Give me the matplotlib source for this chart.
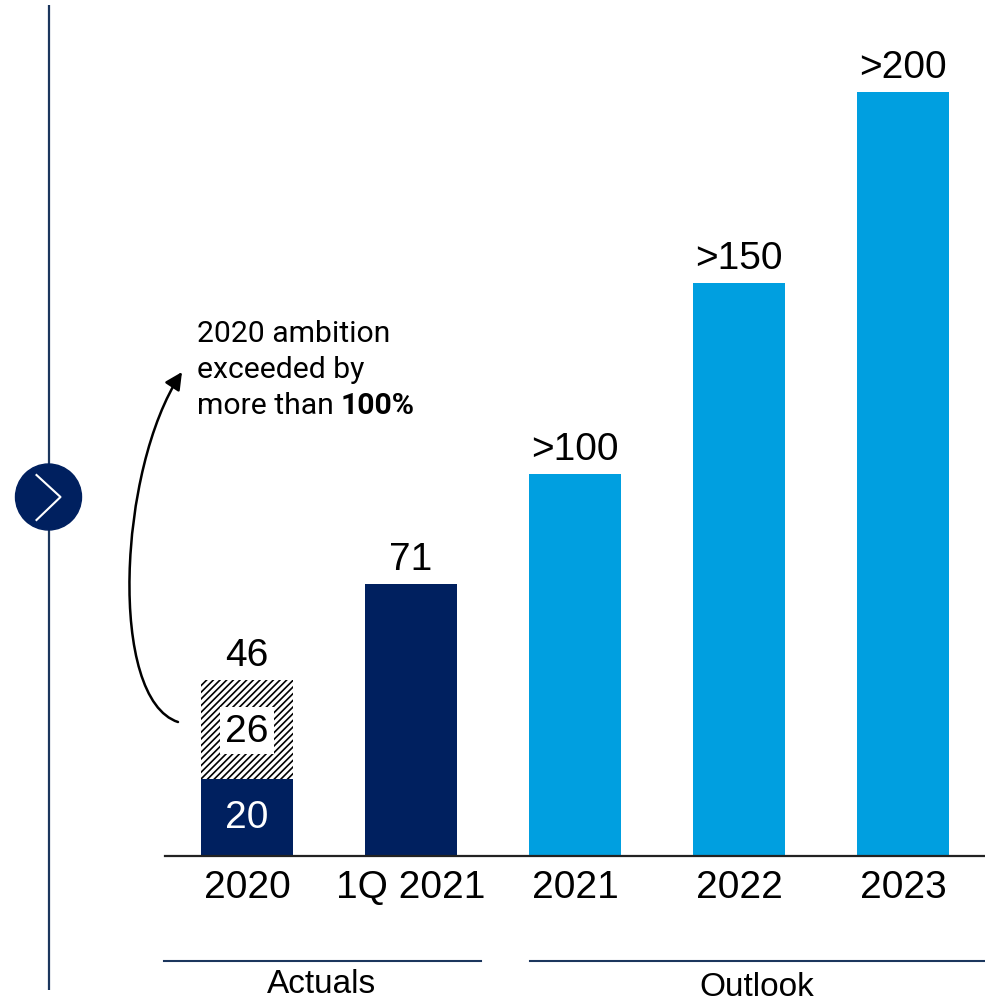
import matplotlib
matplotlib.use("Agg")
import matplotlib.pyplot as plt
from matplotlib.patches import Circle, FancyArrowPatch
from matplotlib.path import Path

plt.rcParams['hatch.linewidth'] = 1.2
plt.rcParams['font.family'] = ['Liberation Sans', 'DejaVu Sans']

W, H = 985, 1003
NAVY = '#00205F'
LINE = '#1B365D'
BLUE = '#009FE0'

categories = ['2020', '1Q 2021', '2021', '2022', '2023']
solid_values = [20, 71, 100, 150, 200]
hatched_values = [26, 0, 0, 0, 0]
top_labels = ['46', '71', '>100', '>150', '>200']
bar_colors = [NAVY, NAVY, BLUE, BLUE, BLUE]
group_names = ['Actuals', 'Outlook']

fig = plt.figure(figsize=(W / 100, H / 100), dpi=100)

# page layer in pixel units, for the rail, the arrow and the group captions
page = fig.add_axes([0, 0, 1, 1])
page.set_xlim(0, W)
page.set_ylim(H, 0)
page.axis('off')

page.plot([48.5, 48.5], [6, 991], color=LINE, lw=1.6, solid_capstyle='butt')
page.add_patch(Circle((48.5, 498), 33, color=NAVY, zorder=3))
page.plot([36.5, 60.5, 36.5], [476, 498, 521], color='white', lw=1.5, zorder=4)

page.plot([164, 481], [962, 962], color=LINE, lw=1.5)
page.plot([530, 985], [962, 962], color=LINE, lw=1.5)
page.text(322, 985, group_names[0], fontsize=24, ha='center', va='center')
page.text(757, 988, group_names[1], fontsize=24, ha='center', va='center')

curve = Path(
    [(178, 723), (108, 700), (118, 470), (182, 373)],
    [Path.MOVETO, Path.CURVE4, Path.CURVE4, Path.CURVE4],
)
page.add_patch(FancyArrowPatch(
    path=curve, transform=page.transData, arrowstyle='-|>', mutation_scale=26,
    color='black', lw=1.8, shrinkA=0, shrinkB=0,
))

note_font = ['Roboto', 'DejaVu Sans']
page.text(197, 334, '2020 ambition', fontsize=21.7, family=note_font, va='center')
page.text(197, 370, 'exceeded by', fontsize=21.7, family=note_font, va='center')
plain = page.text(197, 406, 'more than', fontsize=21.7, family=note_font, va='center')
fig.canvas.draw()
end_x = plain.get_window_extent().x1
page.text(end_x + 7, 406, '100%', fontsize=21.7, family=note_font, weight='bold', va='center')

# chart layer: baseline at y=856 px, 3.82 px per unit
ax = fig.add_axes([165 / W, 1 - 856.5 / H, (W - 165) / W, 856.5 / H])
ax.patch.set_alpha(0)
ax.set_xlim(-0.5, 4.5)
ax.set_ylim(0, 856.5 / 3.82)

positions = range(len(categories))
ax.bar(positions, solid_values, width=0.56, color=bar_colors)
ax.bar(positions, hatched_values, width=0.56, bottom=solid_values,
       facecolor='white', edgecolor='black', hatch='/////', lw=0)

for i, label in enumerate(top_labels):
    total = solid_values[i] + hatched_values[i]
    ax.annotate(label, (i, total), xytext=(0, 5), textcoords='offset points',
                ha='center', va='bottom', fontsize=28)

ax.text(0, solid_values[0] / 2, str(solid_values[0]), color='white',
        fontsize=28, ha='center', va='center')
ax.text(0, solid_values[0] + hatched_values[0] / 2 - 0.3, str(hatched_values[0]),
        fontsize=28, ha='center', va='center',
        bbox=dict(facecolor='white', edgecolor='none', pad=4))

for side in ['top', 'right', 'left']:
    ax.spines[side].set_visible(False)
ax.spines['bottom'].set_linewidth(1.6)
ax.spines['bottom'].set_color('#222222')
ax.set_yticks([])
ax.set_xticks(list(positions))
ax.set_xticklabels(categories, fontsize=28)
ax.tick_params(axis='x', length=0, pad=10)

fig.savefig('out.png', dpi=100)
